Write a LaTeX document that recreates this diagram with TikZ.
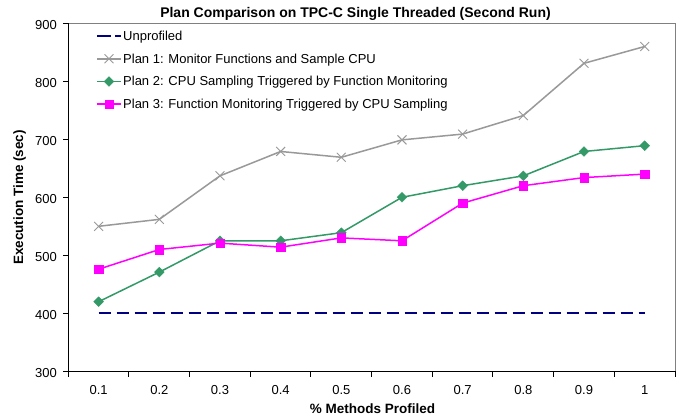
\documentclass[tikz,border=0pt]{standalone}
\usepackage{fontspec}
\setmainfont{Liberation Sans}
\usetikzlibrary{shapes.geometric,shapes.misc}
\definecolor{pgrey}{HTML}{999999}
\definecolor{framegrey}{HTML}{808080}
\definecolor{pgreen}{HTML}{339966}
\definecolor{pmag}{HTML}{FF00FF}
\definecolor{pnavy}{HTML}{000080}
\begin{document}
\begin{tikzpicture}[x=1pt,y=-1pt,
  ticklbl/.style={font=\fontsize{13}{15}\selectfont,inner sep=0pt},
  legtext/.style={font=\fontsize{13}{15}\selectfont,inner sep=0pt,anchor=base west},
  axtitle/.style={font=\bfseries\fontsize{13.5}{16}\selectfont,inner sep=0pt,anchor=base},
  charttitle/.style={font=\bfseries\fontsize{14}{17}\selectfont,inner sep=0pt,anchor=base},
  axisline/.style={black,line width=1pt},
  frameline/.style={framegrey,line width=1pt},
  tickline/.style={black,line width=1pt},
  lineone/.style={pgrey,line width=1.5pt,line join=round},
  linetwo/.style={pgreen,line width=1.5pt,line join=round},
  linethree/.style={pmag,line width=1.5pt,line join=round},
  lineunprof/.style={pnavy,line width=1.8pt,dash pattern=on 12pt off 6pt},
  markone/.style={cross out,draw=pgrey,line width=0.9pt,minimum size=8pt,inner sep=0pt},
  marktwo/.style={diamond,fill=pgreen,draw=pgreen,line width=0.3pt,minimum size=10pt,inner sep=0pt},
  markthree/.style={rectangle,fill=pmag,draw=pmag,line width=0.3pt,minimum size=8.5pt,inner sep=0pt}
]
\useasboundingbox (0,0) rectangle (692,419);
\fill[white] (0,0) rectangle (692,419);

% title
\node[charttitle] (title) at (355.5,18) {Plan Comparison on TPC-C Single Threaded (Second Run)};

% frame
\coordinate (TL) at (68.3,23.5);
\coordinate (TR) at (675,23.5);
\coordinate (BL) at (68.3,371.3);
\coordinate (BR) at (675,371.3);
\draw[frameline] (TL) -- (TR) -- (BR);
\draw[axisline] (TL) -- (BL) -- (BR);

% y ticks and labels
\foreach \i in {0,...,6} {
  \pgfmathsetmacro\yy{371.3-58*\i}
  \pgfmathtruncatemacro\lab{300+100*\i}
  \coordinate (yt\i) at (68.3,\yy);
  \coordinate (ytt\i) at (63,\yy);
  \draw[tickline] (yt\i) -- (ytt\i);
  \node[ticklbl,anchor=base east] (yl\i) at (57,\yy+5.8) {\lab};
}

% x ticks
\foreach \k in {0,...,10} {
  \pgfmathsetmacro\xx{68.3+60.67*\k}
  \coordinate (xt\k) at (\xx,371.3);
  \coordinate (xtt\k) at (\xx,376.5);
  \draw[tickline] (xt\k) -- (xtt\k);
}
% x labels
\foreach \k/\lab in {1/0.1,2/0.2,3/0.3,4/0.4,5/0.5,6/0.6,7/0.7,8/0.8,9/0.9,10/1} {
  \pgfmathsetmacro\xx{68.3+60.67*(\k-0.5)}
  \node[ticklbl,anchor=base] (xl\k) at (\xx,394.6) {\lab};
}

% axis titles
\node[axtitle] (xtitle) at (372.5,413) {\% Methods Profiled};
\node[axtitle,rotate=90] (ytitle) at (23,197.5) {Execution Time (sec)};

% data
\begin{scope}[shift={(68.3pt,-371.3pt)},x=60.67pt,y=0.58pt]
  \coordinate (u1) at (0.5,100);
  \coordinate (u2) at (9.5,100);
  \foreach \v [count=\i] in {550,562,637,679,669,699,709,741,831,860}
    \coordinate (a\i) at (\i-0.5,\v-300);
  \foreach \v [count=\i] in {420,471,525,525,539,600,620,637,679,689}
    \coordinate (b\i) at (\i-0.5,\v-300);
  \foreach \v [count=\i] in {476,510,521,514,530,525,590,620,634,640}
    \coordinate (c\i) at (\i-0.5,\v-300);
\end{scope}

\draw[lineunprof] (u1) -- (u2);
\draw[lineone] (a1) \foreach \i in {2,...,10} { -- (a\i) };
\foreach \i in {1,...,10} \node[markone] (ma\i) at (a\i) {};
\draw[linetwo] (b1) \foreach \i in {2,...,10} { -- (b\i) };
\foreach \i in {1,...,10} \node[marktwo] (mb\i) at (b\i) {};
\draw[linethree] (c1) \foreach \i in {2,...,10} { -- (c\i) };
\foreach \i in {1,...,10} \node[markthree] (mc\i) at (c\i) {};

% legend
\coordinate (lu1) at (97,36);  \coordinate (lu2) at (121,36);
\draw[lineunprof,dash pattern=on 14pt off 4pt] (lu1) -- (lu2);
\node[legtext] (tu) at (123,40.5) {Unprofiled};

\coordinate (la1) at (97,58.8);  \coordinate (la2) at (121,58.8); \coordinate (lam) at (109,58.8);
\draw[lineone] (la1) -- (la2);
\node[markone] (lma) at (lam) {};
\node[legtext] (ta) at (123,63.3) {Plan 1: Monitor Functions and Sample CPU};

\coordinate (lb1) at (97,81.5);  \coordinate (lb2) at (121,81.5); \coordinate (lbm) at (109,81.5);
\draw[linetwo] (lb1) -- (lb2);
\node[marktwo] (lmb) at (lbm) {};
\node[legtext] (tb) at (123,86) {Plan 2: CPU Sampling Triggered by Function Monitoring};

\coordinate (lc1) at (97,104.2);  \coordinate (lc2) at (121,104.2); \coordinate (lcm) at (109,104.2);
\draw[linethree] (lc1) -- (lc2);
\node[markthree] (lmc) at (lcm) {};
\node[legtext] (tc) at (123,108.7) {Plan 3: Function Monitoring Triggered by CPU Sampling};
\end{tikzpicture}
\end{document}
